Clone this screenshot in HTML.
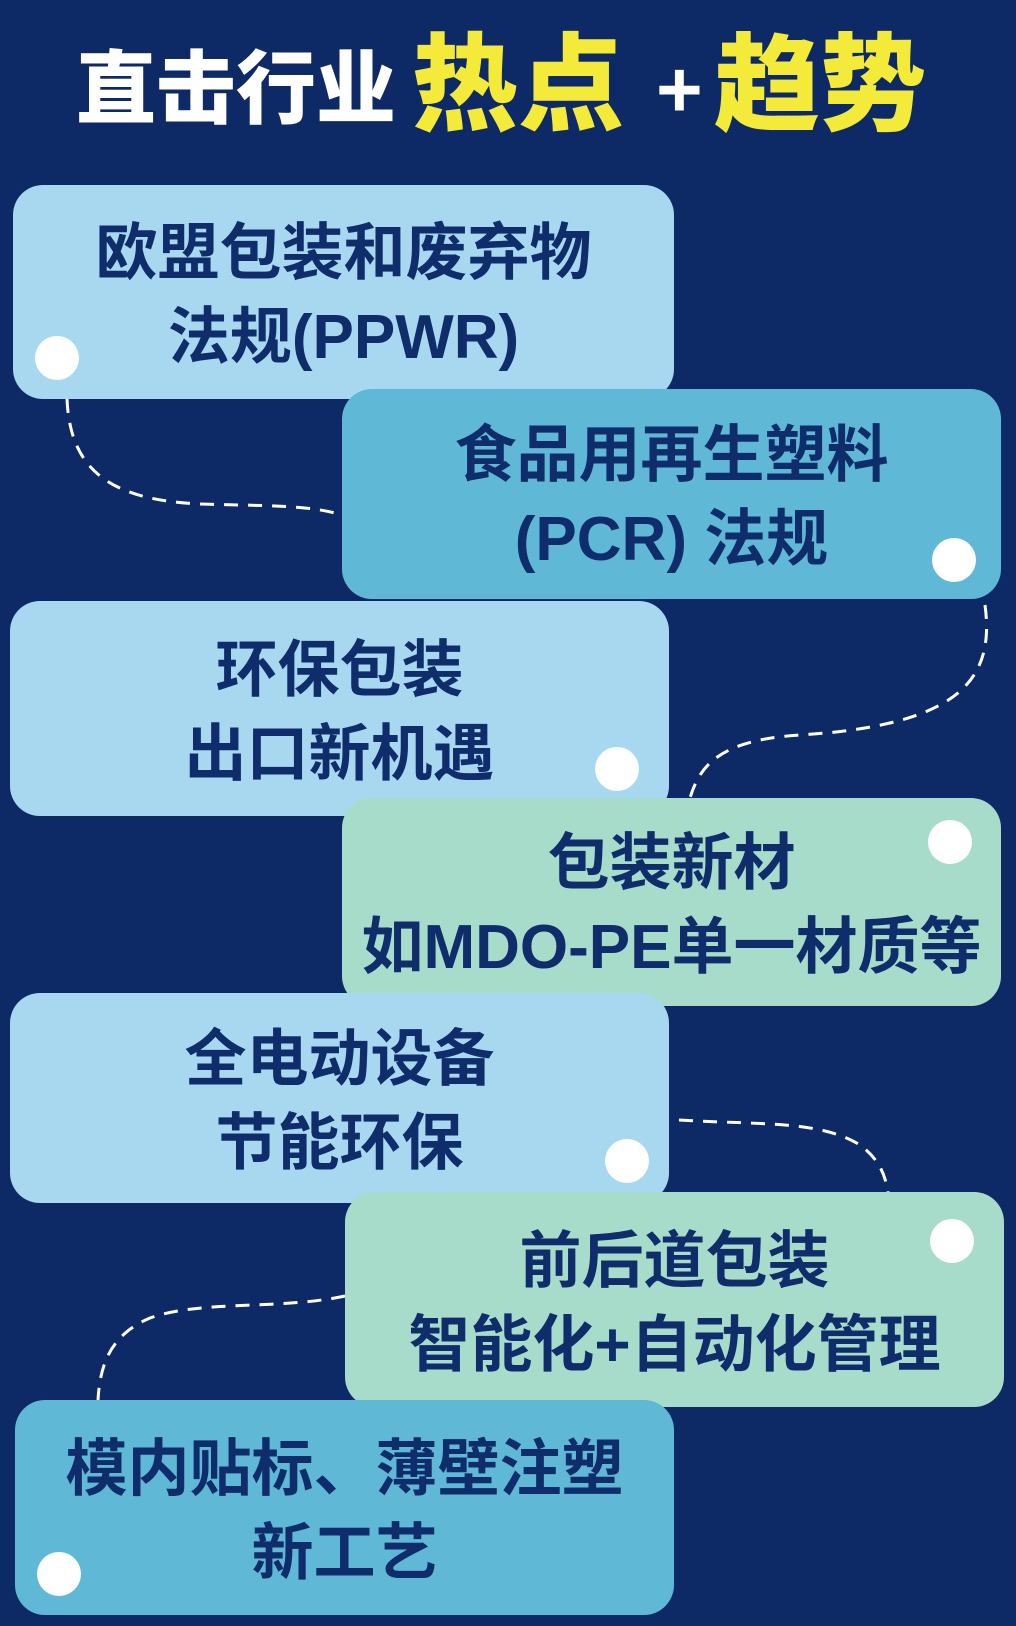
<!DOCTYPE html>
<html><head><meta charset="utf-8"><style>
body{margin:0;width:1016px;height:1626px;background:#0d2a66;position:relative;overflow:hidden;font-family:"Liberation Sans","Noto Sans CJK SC",sans-serif;}
.t{position:absolute;font-weight:900;white-space:nowrap;}
.b{position:absolute;box-sizing:border-box;padding-top:8px;border-radius:30px;display:flex;flex-direction:column;align-items:center;justify-content:center;color:#0f2d6b;font-weight:700;font-size:62px;line-height:84px;}
.c{position:absolute;width:44px;height:44px;border-radius:50%;background:#fff;}
.lb{background:#a8d8ef}.mb{background:#5fb8d5}.mt{background:#a8dcca}
</style></head><body>
<div class="t" style="left:76px;top:40px;font-size:80px;color:#fff;line-height:100px">直击行业</div>
<div class="t" style="left:412px;top:26px;font-size:106px;color:#f4ea3a;line-height:120px">热点</div>
<div class="t" style="left:656px;top:40px;font-size:80px;color:#fff;line-height:100px">+</div>
<div class="t" style="left:714px;top:26px;font-size:106px;color:#f4ea3a;line-height:120px">趋势</div>
<svg width="1016" height="1626" style="position:absolute;left:0;top:0" fill="none" stroke="#fff" stroke-width="3" stroke-dasharray="14 10">
<path d="M67 399 C70 470 110 500 200 504 C270 506 310 505 342 515"/>
<path d="M985 605 C995 680 960 725 800 735 C720 740 700 765 690 798"/>
<path d="M679 1120 C760 1125 820 1120 860 1145 C880 1160 885 1175 888 1192"/>
<path d="M345 1296 C280 1310 200 1300 150 1318 C110 1335 100 1365 98 1400"/>
</svg>
<div class="b lb" style="left:13px;top:185px;width:661px;height:214px"><div>欧盟包装和废弃物</div><div>法规(PPWR)</div></div>
<div class="b mb" style="left:342px;top:389px;width:659px;height:210px"><div>食品用再生塑料</div><div>(PCR) 法规</div></div>
<div class="b lb" style="left:10px;top:601px;width:659px;height:215px"><div>环保包装</div><div>出口新机遇</div></div>
<div class="b mt" style="left:342px;top:798px;width:659px;height:208px"><div>包装新材</div><div>如MDO-PE单一材质等</div></div>
<div class="b lb" style="left:10px;top:993px;width:659px;height:210px"><div>全电动设备</div><div>节能环保</div></div>
<div class="b mt" style="left:345px;top:1192px;width:659px;height:215px"><div>前后道包装</div><div>智能化+自动化管理</div></div>
<div class="b mb" style="left:15px;top:1400px;width:659px;height:215px"><div>模内贴标、薄壁注塑</div><div>新工艺</div></div>
<div class="c" style="left:35px;top:336px"></div>
<div class="c" style="left:932px;top:538px"></div>
<div class="c" style="left:595px;top:747px"></div>
<div class="c" style="left:928px;top:820px"></div>
<div class="c" style="left:605px;top:1139px"></div>
<div class="c" style="left:930px;top:1219px"></div>
<div class="c" style="left:37px;top:1552px"></div>
</body></html>
